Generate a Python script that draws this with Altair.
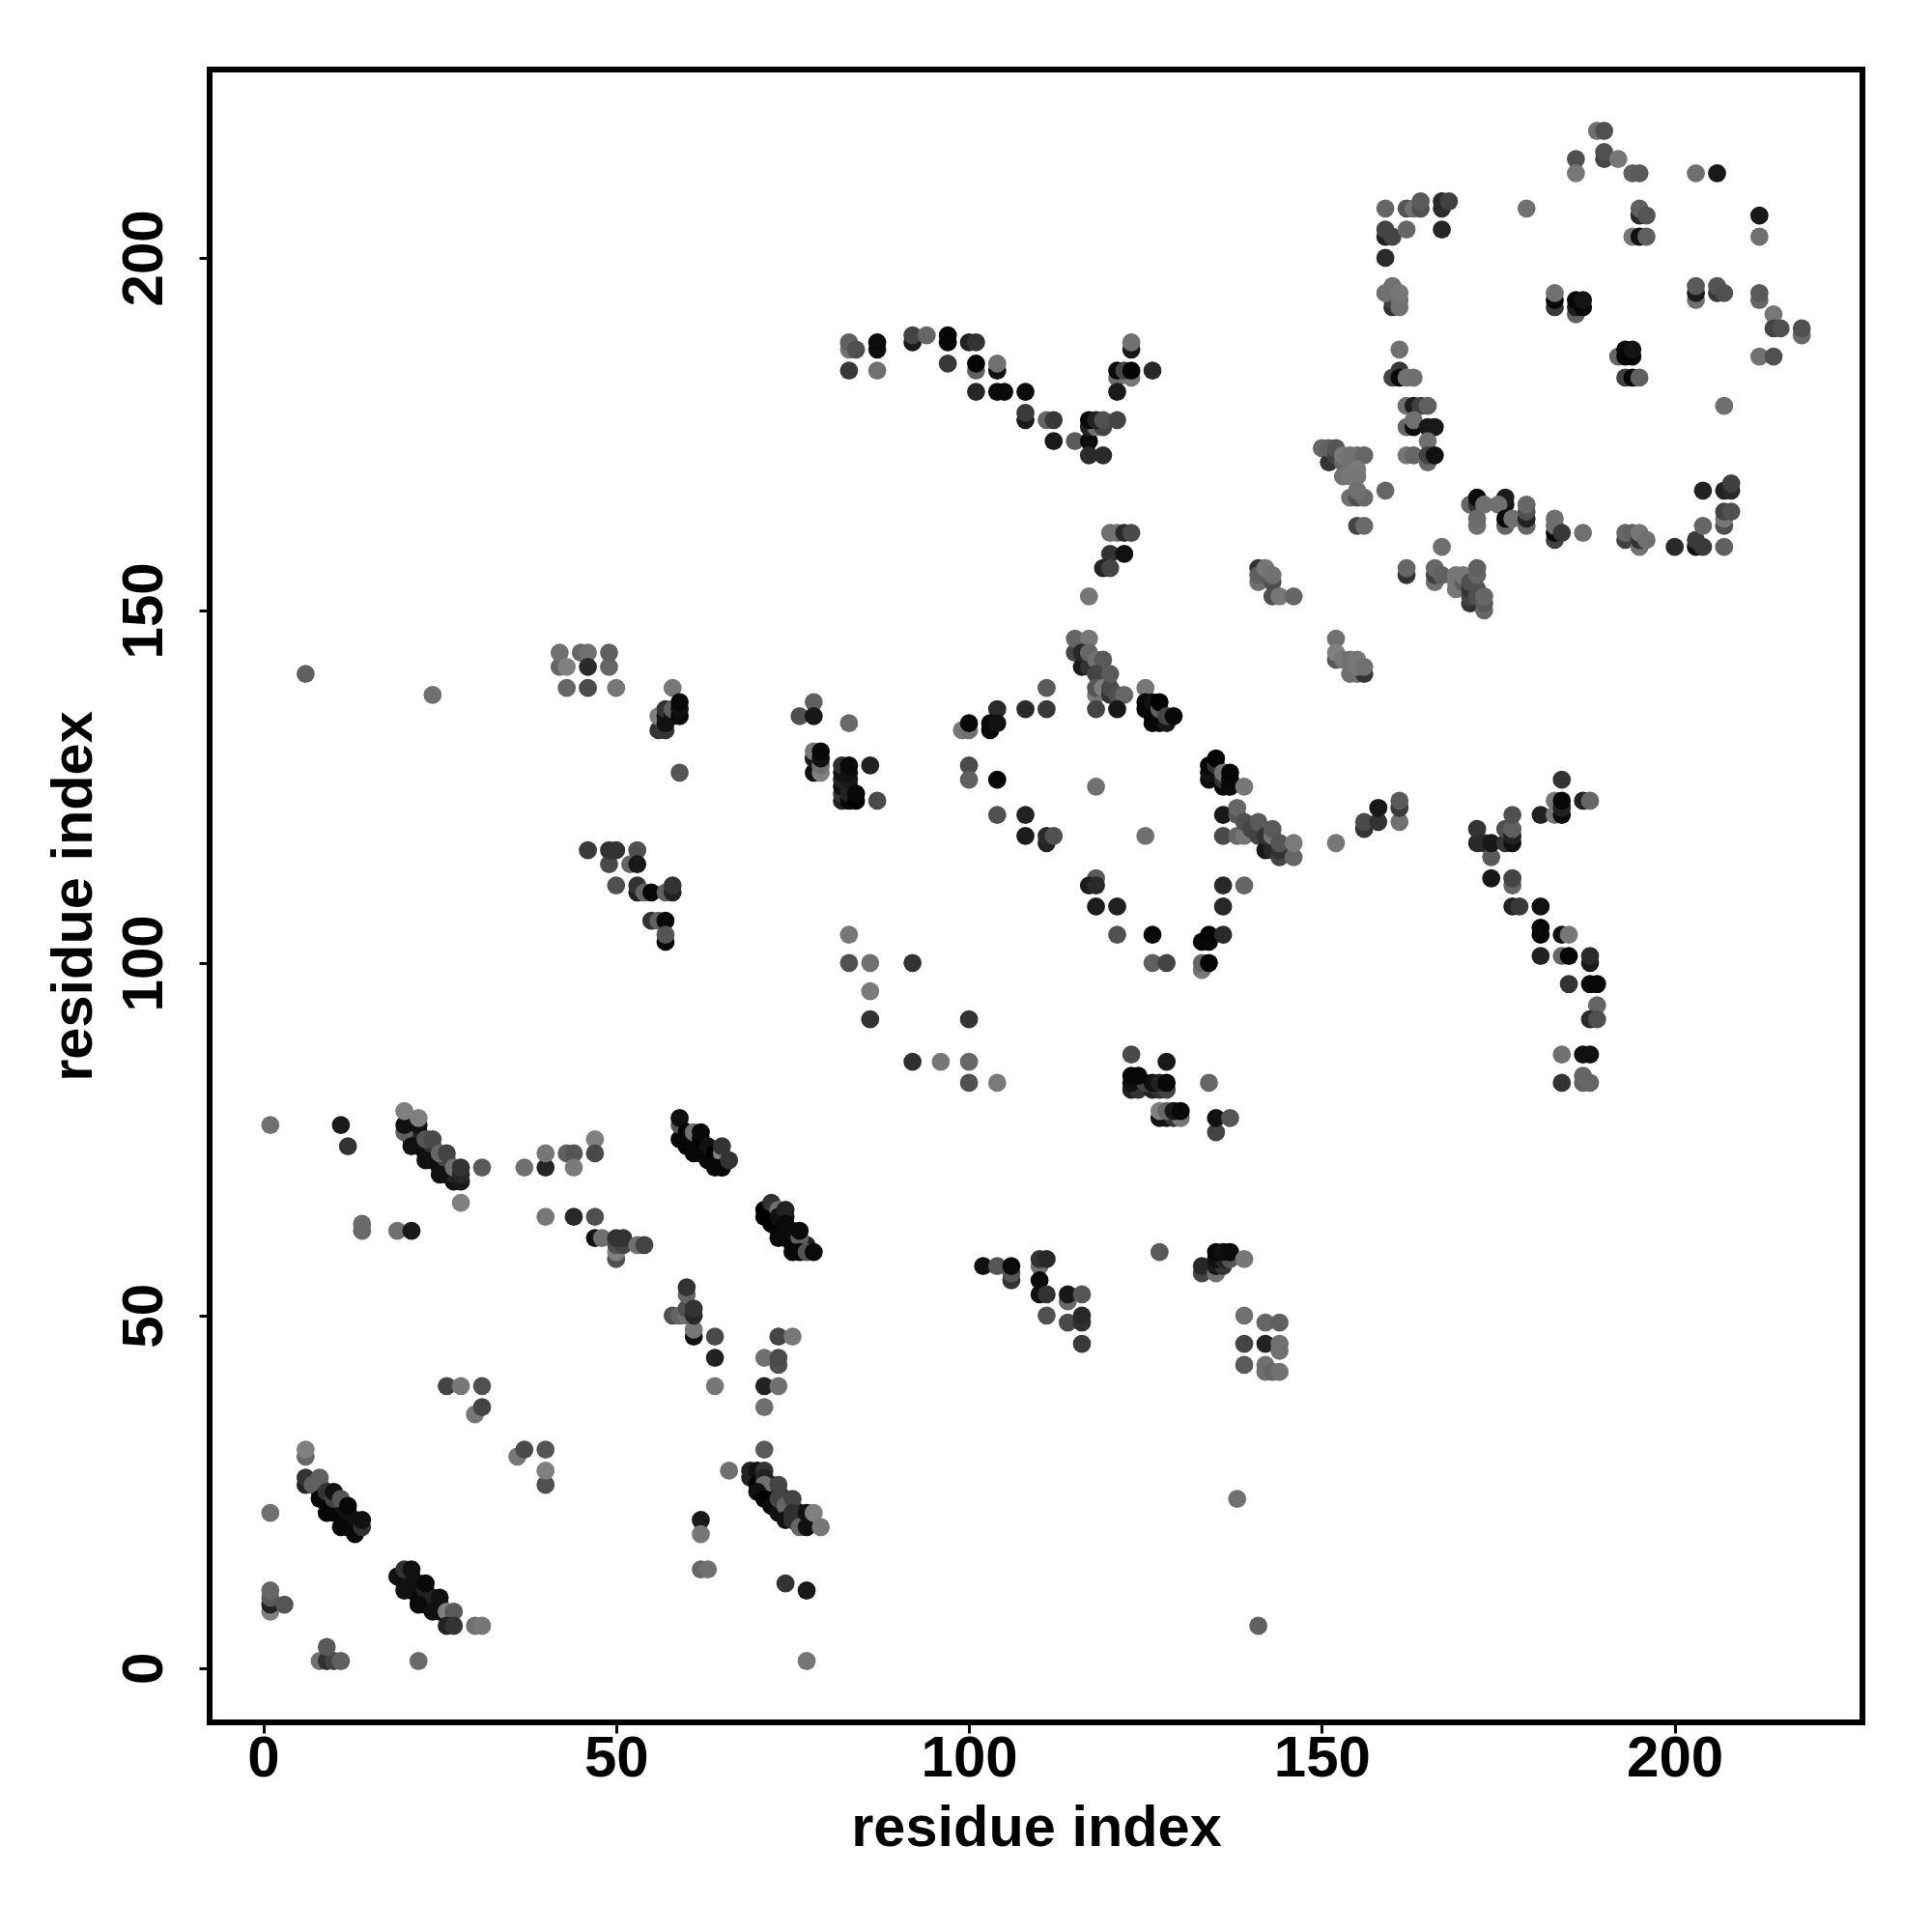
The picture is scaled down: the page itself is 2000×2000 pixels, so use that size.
import altair as alt
import pandas as pd

# (x residue, y residue, grey level)
diagonal_fill = [(8,25,0x0a),(8,26,0x22),(9,24,0x0a),(9,25,0x22),(10,22,0x05),(10,23,0x05),(10,24,0x22),(11,22,0x05),(11,23,0x11),(12,20,0x05),(12,21,0x08),(12,22,0x11),(13,20,0x05),(13,21,0x11),
 (20,12,0x05),(20,13,0x11),(21,11,0x08),(21,12,0x08),(21,13,0x11),(22,10,0x05),(22,11,0x08),(22,12,0x11),(23,9,0x05),(23,10,0x08),(23,11,0x22),(24,9,0x08),(24,10,0x22),(25,8,0x08),(25,9,0x22),
 (21,75,0x08),(21,76,0x11),(22,74,0x08),(22,75,0x11),(22,76,0x22),(23,73,0x08),(23,74,0x11),(23,75,0x33),(24,72,0x08),(24,73,0x11),(24,74,0x33),(25,71,0x08),(25,72,0x11),(25,73,0x44),(26,70,0x08),(26,71,0x11),(26,72,0x44),(27,69,0x11),(27,70,0x22),
 (60,74,0x05),(61,74,0x05),(61,75,0x08),(62,73,0x05),(62,74,0x08),(63,72,0x05),(63,73,0x08),(64,72,0x08),(64,73,0x11),(65,71,0x08),(65,72,0x11),
 (72,63,0x05),(72,64,0x05),(72,65,0x22),(73,62,0x05),(73,63,0x05),(74,61,0x05),(74,62,0x05),(74,64,0x11),(75,60,0x05),(75,61,0x05),(75,62,0x11),(76,60,0x08),(77,60,0x22),
 (71,25,0x08),(71,26,0x11),(72,24,0x08),(72,25,0x08),(72,26,0x22),(73,23,0x08),(73,24,0x11),(73,25,0x22),(74,22,0x08),(74,23,0x11),(74,24,0x33),(75,21,0x08),(75,22,0x11),(75,23,0x33),(76,21,0x08),(76,22,0x11),(77,21,0x11)]

low_left = [(26,40,0x44),(28,40,0x77),(31,40,0x50),(30,36,0x77),(31,37,0x44),(36,30,0x77),(37,31,0x4a),(40,31,0x55),(40,26,0x50),(40,28,0x80),
 (6,30,0x66),(6,31,0x80),(6,26,0x22),(6,27,0x33),(7,26,0x60),(8,27,0x60),(8,24,0x08),(9,22,0x05),(9,25,0x33),(10,24,0x44),(10,25,0x11),
 (11,20,0x08),(11,24,0x55),(12,23,0x08),(13,19,0x08),(14,20,0x33),(14,21,0x11),
 (1,22,0x70),(1,8,0x80),(1,9,0x22),(1,10,0x5a),(1,11,0x66),(3,9,0x55),(8,1,0x70),(9,1,0x30),(10,1,0x44),(11,1,0x60),(9,3,0x5a),(22,1,0x6a),
 (19,13,0x11),(20,14,0x33),(21,14,0x11),(20,11,0x11),(22,9,0x0a),(23,12,0x08),(24,8,0x11),(25,10,0x11),(26,8,0x80),(27,8,0x5a),(26,6,0x22),(27,6,0x33),(30,6,0x70),(31,6,0x77),
 (64,44,0x22),(64,40,0x77),(71,44,0x70),(73,43,0x50),(73,44,0x4a),(71,40,0x22),(73,40,0x70),(71,37,0x70),(71,31,0x5a),(66,28,0x70),
 (69,27,0x22),(69,28,0x22),(70,28,0x11),(71,28,0x33),(70,26,0x00),(71,27,0x22),(71,26,0x70),(70,25,0x11),(71,24,0x00),(72,23,0x0a),(73,22,0x11),(73,26,0x44),(73,24,0x44),(74,23,0x66),(74,21,0x11),(75,21,0x33),(75,24,0x44),(75,22,0x30),(76,20,0x66),(77,20,0x11),(77,22,0x11),(78,22,0x80),(79,20,0x77),
 (62,21,0x1a),(62,19,0x77),(62,14,0x66),(63,14,0x70),(74,12,0x33),(77,11,0x18),(77,1,0x77),(138,24,0x70),(141,6,0x60)]

mid_left = [(1,77,0x70),(11,77,0x1a),(12,74,0x33),(20,76,0x60),(20,77,0x11),(20,79,0x80),(21,74,0x11),(22,77,0x11),(22,78,0x80),(23,72,0x11),(23,75,0x55),(24,75,0x4a),(25,70,0x11),(25,73,0x66),(26,73,0x44),(27,71,0x70),(28,69,0x1a),(28,70,0x28),(28,71,0x33),(31,71,0x5a),(28,66,0x80),
 (37,71,0x70),(40,71,0x26),(40,73,0x77),(43,73,0x60),(44,73,0x55),(44,71,0x7a),(47,75,0x80),(47,73,0x4a),(14,63,0x6a),(14,62,0x6a),(19,62,0x70),(21,62,0x1a),(40,64,0x77),(44,64,0x28),(47,64,0x50),
 (47,61,0x11),(48,61,0x70),(50,58,0x50),(50,59,0x80),(50,60,0x50),(51,60,0x44),(50,61,0x33),(51,61,0x33),(53,60,0x70),(54,60,0x44),
 (59,75,0x08),(59,77,0x55),(59,78,0x11),(60,76,0x00),(60,75,0x08),(61,73,0x08),(61,76,0x70),(62,75,0x00),(62,76,0x08),(63,74,0x11),(64,73,0x00),(65,73,0x80),(64,71,0x08),(65,71,0x08),(65,74,0x33),(66,72,0x33),
 (71,64,0x00),(71,65,0x00),(72,66,0x33),(73,65,0x70),(73,64,0x11),(74,65,0x22),(74,63,0x0a),(73,61,0x0a),(76,61,0x60),(76,62,0x0a),(75,59,0x08),(76,59,0x08),(77,59,0x55),(78,59,0x0a),
 (58,50,0x50),(59,50,0x66),(60,50,0x70),(60,51,0x50),(60,53,0x66),(60,54,0x33),(61,47,0x11),(61,48,0x77),(61,50,0x28),(61,51,0x33),(64,47,0x4a),(73,47,0x44),(75,47,0x77)]

mid_center = [(86,92,0x33),(100,92,0x33),(92,86,0x30),(96,86,0x77),(100,86,0x66),(100,83,0x50),(104,83,0x7a),(123,87,0x4a),(128,86,0x18),
 (123,82,0x22),(124,82,0x33),(126,82,0x22),(127,82,0x33),(128,82,0x44),(123,83,0x11),(125,83,0x44),(126,83,0x11),(127,83,0x22),(128,83,0x08),(123,84,0x08),(124,84,0x08),(134,83,0x66),
 (127,78,0x11),(128,78,0x11),(129,78,0x33),(130,78,0x77),(127,79,0x80),(128,79,0x66),(129,79,0x18),(130,79,0x08),(135,76,0x44),(135,78,0x11),(137,78,0x55),
 (102,57,0x11),(104,57,0x55),(106,55,0x33),(106,56,0x55),(106,57,0x0a),(110,57,0x70),(110,58,0x33),(111,58,0x28),(110,53,0x11),(110,55,0x0a),(111,53,0x33),(114,52,0x66),(114,53,0x18),(116,53,0x55),(111,50,0x50),(114,49,0x4a),(116,49,0x30),(116,50,0x28),(116,46,0x3a),(127,59,0x5a),
 (133,56,0x44),(133,57,0x28),(135,56,0x70),(135,57,0x18),(136,57,0x33),(135,58,0x11),(136,58,0x22),(137,58,0x55),(135,59,0x08),(136,59,0x11),(137,59,0x0a),(139,58,0x77),
 (139,50,0x70),(142,49,0x66),(144,49,0x60),(139,46,0x44),(142,46,0x22),(144,45,0x70),(144,46,0x70),(139,43,0x5a),(142,42,0x70),(142,43,0x70),(143,42,0x66),(144,42,0x70)]

upper_left = [(6,141,0x60),(24,138,0x70),(42,142,0x66),(42,144,0x70),(43,142,0x80),(45,144,0x66),(46,144,0x70),(46,142,0x2a),(49,142,0x66),(49,144,0x60),(43,139,0x66),(46,139,0x4a),(50,139,0x77),
 (58,139,0x77),(56,133,0x33),(57,133,0x33),(56,135,0x80),(57,134,0x11),(57,135,0x11),(57,136,0x33),(58,135,0x11),(58,136,0x60),(59,135,0x0a),(59,136,0x11),(59,137,0x08),(59,127,0x55),
 (78,137,0x60),(76,135,0x50),(78,135,0x18),(83,134,0x6a),(78,127,0x11),(79,127,0x80),(78,129,0x18),(79,128,0x70),(78,130,0x77),(79,129,0x11),(79,130,0x08),
 (82,123,0x22),(82,124,0x33),(82,125,0x11),(82,126,0x22),(82,127,0x11),(82,128,0x30),(83,123,0x08),(83,124,0x22),(83,125,0x22),(83,126,0x18),(83,127,0x11),(83,128,0x0a),(84,123,0x00),(84,124,0x08),(86,128,0x22),(87,123,0x4a),
 (46,116,0x3a),(49,114,0x4a),(49,116,0x33),(50,116,0x33),(52,114,0x66),(53,116,0x50),(53,114,0x18),(50,111,0x50),(53,110,0x22),(53,111,0x33),(54,110,0x66),(55,110,0x08),(57,110,0x60),(58,110,0x22),(58,111,0x33),
 (55,106,0x33),(56,106,0x60),(57,106,0x08),(57,103,0x08),(57,104,0x55),(83,104,0x77),(83,100,0x50),(86,100,0x70),(92,100,0x33),(86,96,0x7a),
 (104,136,0x2a),(108,136,0x2a),(111,136,0x38),(111,139,0x5a),(99,133,0x77),(100,133,0x70),(100,134,0x08),(103,133,0x08),(103,134,0x08),(104,134,0x11),(100,128,0x4a),(100,126,0x60),(104,126,0x05),(104,121,0x50),(108,121,0x22),(108,118,0x1c),(111,117,0x22),(111,118,0x2a),(112,118,0x50),(118,125,0x70)]

center_ring = [(115,144,0x44),(115,146,0x66),(117,146,0x77),(116,142,0x1c),(116,144,0x28),(117,142,0x33),(117,144,0x66),(118,143,0x70),(119,143,0x5a),(118,141,0x44),(118,138,0x77),(118,139,0x55),(119,139,0x80),(120,138,0x33),(120,139,0x4a),(120,141,0x5a),(121,138,0x50),(122,138,0x66),(118,136,0x44),(121,136,0x18),
 (125,139,0x77),(125,136,0x08),(125,137,0x08),(126,134,0x08),(126,135,0x00),(126,136,0x08),(126,137,0x11),(127,134,0x08),(127,136,0x60),(127,137,0x00),(128,134,0x18),(128,135,0x44),(129,135,0x08),
 (134,126,0x08),(134,127,0x11),(134,128,0x08),(135,128,0x33),(135,129,0x05),(136,125,0x0a),(136,126,0x33),(136,127,0x70),(137,125,0x0a),(137,126,0x08),(137,127,0x05),(139,125,0x77),
 (136,121,0x18),(136,118,0x4a),(138,118,0x66),(139,118,0x77),(138,121,0x55),(138,122,0x66),(139,120,0x50),(140,119,0x44),(141,118,0x44),(141,120,0x5a),(142,116,0x18),(142,118,0x33),(143,116,0x28),(143,118,0x77),(143,119,0x5a),(144,115,0x44),(144,116,0x33),(144,117,0x55),(146,115,0x66),(146,117,0x7a),
 (152,146,0x70),(152,143,0x55),(152,144,0x80),(153,143,0x77),(154,141,0x70),(154,143,0x70),(155,141,0x70),(156,141,0x33),(155,142,0x77),(155,143,0x77),(156,142,0x70),
 (152,117,0x77),(156,119,0x33),(156,120,0x4a),(158,120,0x33),(158,122,0x18),(161,120,0x70),(161,122,0x3a),(161,123,0x5a),(125,118,0x70),
 (118,112,0x5a),(117,111,0x1c),(118,111,0x2a),(118,108,0x1c),(121,108,0x20),(121,104,0x50),(126,104,0x08),(133,103,0x08),(134,103,0x08),(134,104,0x05),(136,104,0x2a),(136,111,0x28),(139,111,0x66),(136,108,0x28),(126,100,0x60),(128,100,0x44),(133,99,0x77),(133,100,0x66),(134,100,0x05)]

right_arm = [(184,126,0x33),(181,121,0x22),(183,121,0x77),(183,123,0x77),(184,121,0x0a),(184,122,0x22),(184,123,0x08),(187,123,0x22),(188,123,0x66),
 (172,117,0x2a),(172,119,0x33),(173,117,0x2a),(174,115,0x5a),(174,117,0x18),(176,117,0x33),(176,119,0x50),(177,117,0x11),(177,118,0x22),(177,119,0x60),(177,121,0x50),(174,112,0x18),(177,111,0x66),(177,112,0x44),(177,108,0x22),(178,108,0x38),(181,108,0x11),
 (181,104,0x05),(181,105,0x08),(184,104,0x11),(185,104,0x77),(181,101,0x22),(184,101,0x66),(185,101,0x05),(188,100,0x1a),(188,101,0x2a),(185,97,0x33),(188,97,0x0a),(189,97,0x08),(189,94,0x66),(188,92,0x2a),(189,92,0x50),
 (184,87,0x70),(187,87,0x11),(188,87,0x11),(184,83,0x33),(187,83,0x60),(187,84,0x66),(188,83,0x66)]

top_band = [(83,187,0x70),(83,188,0x60),(84,187,0x50),(87,187,0x11),(87,188,0x0c),(83,184,0x38),(87,184,0x70),(92,188,0x1a),(92,189,0x44),(94,189,0x66),(97,188,0x08),(97,189,0x05),(100,188,0x22),(101,188,0x33),(97,185,0x38),(101,184,0x60),(101,185,0x05),(104,184,0x11),(104,185,0x70),(101,181,0x26),(104,181,0x0a),(105,181,0x0a),(108,181,0x0c),
 (108,177,0x18),(108,178,0x3a),(111,177,0x66),(112,177,0x38),(112,174,0x1a),(115,174,0x5a),(117,174,0x0a),(117,172,0x2a),(119,172,0x2a),(117,176,0x22),(118,176,0x70),(119,176,0x44),(117,177,0x08),(118,177,0x22),(119,177,0x50),(121,177,0x44),
 (123,187,0x1a),(123,188,0x70),(121,183,0x70),(123,183,0x77),(121,184,0x0a),(122,184,0x44),(123,184,0x05),(121,181,0x1a),(126,184,0x28),
 (120,161,0x70),(121,161,0x70),(122,161,0x2a),(123,161,0x4a),(120,158,0x33),(122,158,0x11),(119,156,0x22),(120,156,0x44),(117,152,0x77),
 (141,156,0x33),(141,154,0x70),(141,155,0x60),(142,156,0x77),(143,154,0x50),(143,155,0x70),(143,152,0x50),(144,152,0x77),(146,152,0x66)]

top_right = [(189,218,0x70),(190,218,0x50),(186,214,0x50),(186,212,0x77),(190,214,0x44),(190,215,0x50),(192,214,0x77),(194,212,0x60),(195,212,0x5a),(203,212,0x70),(206,212,0x18),
 (159,207,0x66),(162,207,0x55),(163,207,0x70),(164,207,0x50),(164,208,0x5a),(167,207,0x2a),(167,208,0x2a),(168,208,0x40),(179,207,0x70),(159,203,0x20),(159,204,0x44),(160,203,0x44),(162,204,0x66),(167,204,0x26),(159,200,0x2a),
 (195,206,0x2a),(195,207,0x60),(196,206,0x55),(194,203,0x77),(195,203,0x11),(196,203,0x60),(212,206,0x18),(212,203,0x70),
 (160,193,0x33),(160,194,0x40),(159,195,0x70),(160,196,0x70),(161,193,0x70),(161,194,0x70),(161,195,0x77),
 (183,193,0x38),(183,194,0x08),(183,195,0x70),(186,192,0x60),(186,193,0x20),(187,193,0x05),(186,194,0x08),(187,194,0x14),
 (203,194,0x70),(203,195,0x1c),(203,196,0x5a),(206,195,0x38),(206,196,0x55),(207,195,0x50),(212,194,0x66),(212,195,0x5a),(214,192,0x77),(214,190,0x44),(215,190,0x50),(218,189,0x6a),(218,190,0x50),(212,186,0x70),(214,186,0x50),
 (161,187,0x70),(161,184,0x38),(160,183,0x44),(161,183,0x0a),(162,183,0x70),(163,183,0x70),
 (192,186,0x66),(193,186,0x08),(193,187,0x05),(194,186,0x05),(194,187,0x14),(193,183,0x40),(194,183,0x08),(195,183,0x60),(207,179,0x70),
 (162,179,0x70),(163,179,0x1c),(164,179,0x40),(165,179,0x60),(162,176,0x66),(163,176,0x0c),(163,177,0x70),(165,176,0x18),(166,176,0x18),(165,174,0x70),(162,172,0x77),(163,172,0x66),(165,171,0x66),(165,172,0x44),(166,172,0x11),
 (150,173,0x66),(151,171,0x33),(151,173,0x60),(152,172,0x44),(152,173,0x55),(153,171,0x66),(153,172,0x77),(154,171,0x70),(154,172,0x70),(155,172,0x70),(156,172,0x66),(154,170,0x70),(155,170,0x7a),(153,169,0x70),(154,169,0x77),(155,169,0x77)]

lower_right = [(159,167,0x66),(154,166,0x70),(155,166,0x50),(156,166,0x6a),(155,167,0x70),(155,162,0x44),(156,162,0x6a),
 (171,165,0x66),(172,165,0x33),(172,166,0x0c),(173,165,0x70),(176,165,0x14),(176,166,0x1c),(175,165,0x70),(172,162,0x70),(172,163,0x6a),(176,162,0x66),(176,163,0x0a),(177,163,0x70),(179,162,0x66),(179,163,0x22),(179,164,0x50),(179,165,0x66),
 (183,160,0x40),(183,161,0x08),(183,162,0x70),(183,163,0x70),(184,161,0x38),(187,161,0x70),
 (193,160,0x40),(193,161,0x66),(194,161,0x60),(195,159,0x70),(195,160,0x33),(195,161,0x77),(196,160,0x70),
 (200,159,0x2a),(203,159,0x11),(203,160,0x3a),(204,159,0x3a),(204,162,0x66),(207,159,0x60),(204,167,0x22),(207,167,0x22),(208,167,0x28),(208,168,0x40),(207,162,0x50),(207,163,0x77),(207,164,0x44),(208,164,0x50),
 (162,155,0x33),(162,156,0x66),(166,154,0x70),(166,155,0x40),(166,156,0x66),(167,155,0x60),(167,159,0x70),(169,153,0x77),(169,154,0x77),(169,155,0x77),(170,154,0x60),(170,155,0x77),
 (171,151,0x33),(171,152,0x44),(171,153,0x33),(171,154,0x50),(172,152,0x50),(172,153,0x50),(172,155,0x66),(172,156,0x60),(173,150,0x66),(173,151,0x5a),(173,152,0x66)]

groups = [diagonal_fill, low_left, mid_left, mid_center, upper_left, center_ring, right_arm, top_band, top_right, lower_right]
rows = [{"x": a, "y": b, "c": f"#{g:02x}{g:02x}{g:02x}"} for grp in groups for a, b, g in grp]
df = pd.DataFrame(rows)

font = "Liberation Sans"
xaxis = alt.Axis(values=[0, 50, 100, 150, 200], title="residue index", grid=False, domain=False,
                 tickColor="black", tickWidth=3, tickSize=11, labelFont=font, labelFontSize=60,
                 labelFontWeight="bold", labelColor="black", labelPadding=-3, titleFont=font,
                 titleFontSize=59.5, titleFontWeight="bold", titleColor="black", titlePadding=13)
yaxis = alt.Axis(values=[0, 50, 100, 150, 200], title="residue index", grid=False, domain=False,
                 tickColor="black", tickWidth=3, tickSize=11, labelFont=font, labelFontSize=60,
                 labelFontWeight="bold", labelColor="black", labelAngle=270, labelAlign="center",
                 labelBaseline="bottom", labelPadding=26, titleFont=font, titleFontSize=59.5,
                 titleFontWeight="bold", titleColor="black", titlePadding=13)

chart = (alt.Chart(df)
    .mark_circle(size=352, opacity=1)
    .encode(
        x=alt.X("x:Q", scale=alt.Scale(domain=[-7.6, 226.6], nice=False, zero=False), axis=xaxis),
        y=alt.Y("y:Q", scale=alt.Scale(domain=[-7.7, 226.7], nice=False, zero=False), axis=yaxis),
        color=alt.Color("c:N", scale=None),
        order=alt.Order("idx:Q"),
    )
    .transform_window(idx="row_number()")
    .properties(width=1711, height=1711, background="white",
                autosize=alt.AutoSizeParams(type="none"),
                padding={"left": 209, "top": 64, "right": 60, "bottom": 200})
    .configure_view(stroke="black", strokeWidth=6))
chart.save("out.html", embed_options={"renderer": "svg", "actions": False})
